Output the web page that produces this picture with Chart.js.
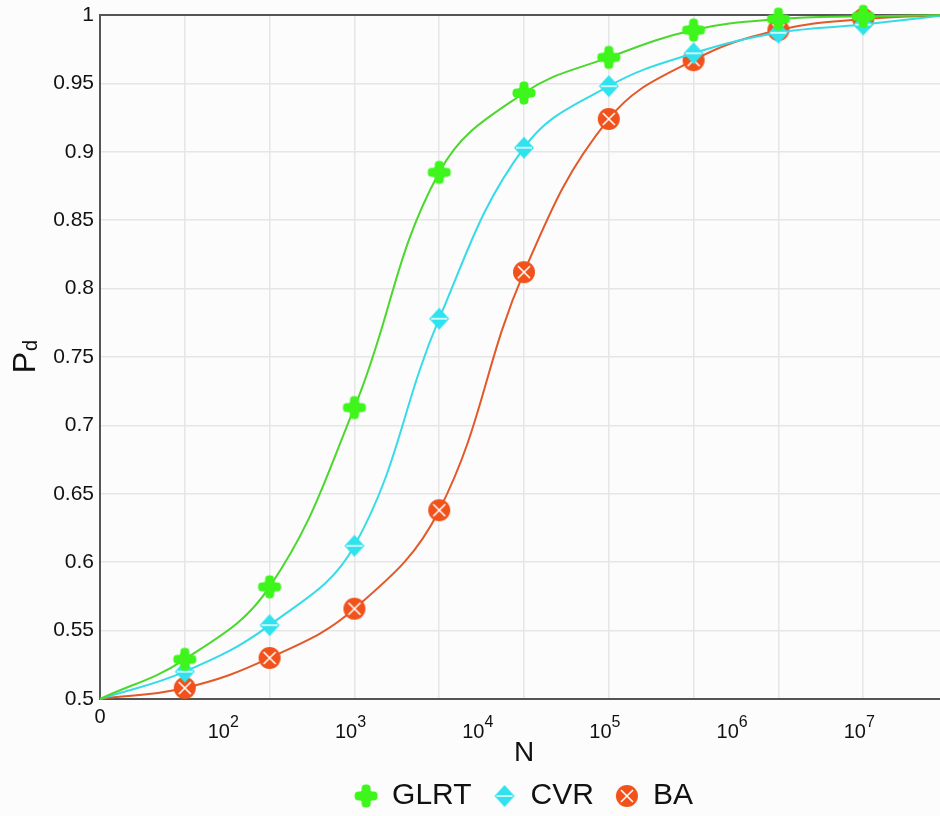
<!DOCTYPE html>
<html>
<head>
<meta charset="utf-8">
<script src="https://cdn.jsdelivr.net/npm/chart.js@4.4.1/dist/chart.umd.min.js"></script>
<style>
  html, body { margin: 0; padding: 0; background: #fcfcfc; overflow: hidden; }
  canvas { display: block; }
</style>
</head>
<body>
<canvas id="pdChart" width="948" height="821"></canvas>
<script>
/* global Chart */

// N values where the detectors were evaluated (also the vertical grid lines)
const gridN = [46.4, 215.4, 1000, 4642, 21544, 100000, 464159, 2154435, 10000000];
// curve ends (no markers there)
const curveStartN = 10;
const curveEndN = 46415888;

const glrt = [0.529, 0.582, 0.713, 0.885, 0.943, 0.969, 0.989, 0.997, 0.999];
const cvr  = [0.520, 0.554, 0.612, 0.778, 0.903, 0.948, 0.972, 0.987, 0.993];
const ba   = [0.508, 0.530, 0.566, 0.638, 0.812, 0.924, 0.967, 0.989, 0.997];

// x tick labels: base text + superscript exponent
const xLabelN   = [10, 100, 1000, 10000, 100000, 1000000, 10000000];
const xLabelTxt = ["0", "10", "10", "10", "10", "10", "10"];
const xLabelExp = ["", "2", "3", "4", "5", "6", "7"];
const yTicks  = [0.5, 0.55, 0.6, 0.65, 0.7, 0.75, 0.8, 0.85, 0.9, 0.95, 1];
const yLabels = ["0.5", "0.55", "0.6", "0.65", "0.7", "0.75", "0.8", "0.85", "0.9", "0.95", "1"];

const FONT = "'Liberation Sans', Arial, Helvetica, sans-serif";
const EXP_PAD = "   "; // room for the exponent, keeps "10" left of the tick like the original

function makeMarker(w, h, draw) {
  const c = document.createElement("canvas");
  c.width = w;
  c.height = h;
  draw(c.getContext("2d"), w / 2, h / 2);
  return c;
}

const plusMark = makeMarker(26, 26, (g, cx, cy) => {
  g.fillStyle = "#3ef51c";
  g.beginPath();
  g.roundRect(cx - 11.5, cy - 4.5, 23, 9, 4);
  g.roundRect(cx - 4.5, cy - 11.5, 9, 23, 4);
  g.fill();
  g.beginPath();
  g.arc(cx, cy, 7, 0, Math.PI * 2);
  g.fill();
});

const diamondMark = makeMarker(24, 26, (g, cx, cy) => {
  g.fillStyle = "#2fe3ee";
  g.beginPath();
  g.moveTo(cx, cy - 11); g.lineTo(cx + 10, cy);
  g.lineTo(cx, cy + 11); g.lineTo(cx - 10, cy);
  g.closePath();
  g.fill();
  g.strokeStyle = "#ffffff";
  g.lineWidth = 1.5;
  g.beginPath();
  g.moveTo(cx - 8, cy); g.lineTo(cx + 8, cy);
  g.stroke();
});

const circleXMark = makeMarker(26, 26, (g, cx, cy) => {
  g.fillStyle = "#f1511a";
  g.beginPath();
  g.arc(cx, cy, 11, 0, Math.PI * 2);
  g.fill();
  g.strokeStyle = "#ffffff";
  g.lineWidth = 1.6;
  const r = 8.5 / Math.SQRT2;
  g.beginPath();
  g.moveTo(cx - r, cy - r); g.lineTo(cx + r, cy + r);
  g.moveTo(cx + r, cy - r); g.lineTo(cx - r, cy + r);
  g.stroke();
});

const series = [
  { name: "GLRT", values: glrt, line: "#4ad82c", marker: plusMark },
  { name: "CVR", values: cvr, line: "#36dbe8", marker: diamondMark },
  { name: "BA", values: ba, line: "#e2592a", marker: circleXMark },
];

const xTickValues = Array.from(new Set([...xLabelN, ...gridN])).sort((a, b) => a - b);

const frameTop = {
  id: "frameTop",
  beforeDatasetsDraw(chart) {
    const { ctx, chartArea: a } = chart;
    ctx.save();
    ctx.strokeStyle = "#555";
    ctx.lineWidth = 2;
    ctx.beginPath();
    ctx.moveTo(a.left, a.top);
    ctx.lineTo(a.right, a.top);
    ctx.stroke();
    ctx.restore();
  },
};

// superscript exponents next to the "10" tick labels
const xExponents = {
  id: "xExponents",
  afterDraw(chart) {
    const { ctx } = chart;
    const sc = chart.scales.x;
    ctx.save();
    ctx.fillStyle = "#111";
    ctx.textBaseline = "alphabetic";
    ctx.textAlign = "left";
    xLabelN.forEach((v, i) => {
      if (!xLabelExp[i]) return;
      ctx.font = `20px ${FONT}`;
      const wAll = ctx.measureText(xLabelTxt[i] + EXP_PAD).width;
      const wBase = ctx.measureText(xLabelTxt[i]).width;
      const x = sc.getPixelForValue(v) - wAll / 2 + wBase;
      ctx.font = `16px ${FONT}`;
      ctx.fillText(xLabelExp[i], x, sc.top + 28);
    });
    ctx.restore();
  },
};

// "P" with subscript "d", rotated
const yTitle = {
  id: "yTitle",
  afterDraw(chart) {
    const { ctx, chartArea } = chart;
    const cy = (chartArea.top + chartArea.bottom) / 2;
    ctx.save();
    ctx.translate(35, cy);
    ctx.rotate(-Math.PI / 2);
    ctx.fillStyle = "#111";
    ctx.textBaseline = "alphabetic";
    ctx.font = `32px ${FONT}`;
    const wP = ctx.measureText("P").width;
    ctx.font = `20px ${FONT}`;
    const wd = ctx.measureText("d").width;
    const x0 = -(wP + wd) / 2;
    ctx.font = `32px ${FONT}`;
    ctx.fillText("P", x0, 0);
    ctx.font = `20px ${FONT}`;
    ctx.fillText("d", x0 + wP + 1, 2);
    ctx.restore();
  },
};

new Chart(document.getElementById("pdChart"), {
  type: "line",
  data: {
    datasets: series.map((s) => ({
      label: s.name,
      data: [
        { x: curveStartN, y: 0.5 },
        ...gridN.map((n, i) => ({ x: n, y: s.values[i] })),
        { x: curveEndN, y: 1 },
      ],
      borderColor: s.line,
      backgroundColor: s.line,
      borderWidth: 2,
      pointStyle: s.marker,
      pointRadius: (c) => (c.dataIndex === 0 || c.dataIndex === gridN.length + 1 ? 0 : 8),
      tension: 0.4,
      fill: false,
      clip: false,
    })),
  },
  options: {
    responsive: false,
    animation: false,
    events: [],
    layout: { padding: { top: 15, left: 0, right: 0, bottom: 0 } },
    plugins: {
      legend: {
        position: "bottom",
        fullSize: false,
        labels: {
          usePointStyle: true,
          boxWidth: 22,
          padding: 22,
          color: "#111",
          font: { family: FONT, size: 30 },
        },
      },
      tooltip: { enabled: false },
    },
    scales: {
      x: {
        type: "logarithmic",
        min: curveStartN,
        max: curveEndN,
        afterBuildTicks: (sc) => { sc.ticks = xTickValues.map((v) => ({ value: v })); },
        afterFit: (sc) => { sc.height = 60; },
        grid: {
          color: (c) => (c.tick && gridN.includes(c.tick.value) ? "#e6e6e6" : "rgba(0,0,0,0)"),
          lineWidth: 1.5,
          drawTicks: false,
        },
        border: { color: "#555", width: 2 },
        ticks: {
          autoSkip: false,
          maxRotation: 0,
          padding: 8,
          color: "#111",
          font: (c) => ({ family: FONT, size: 20, lineHeight: c.tick && c.tick.value === curveStartN ? 1 : 2.5 }),
          callback: (v) => {
            const i = xLabelN.indexOf(v);
            if (i < 0) return "";
            return xLabelExp[i] ? xLabelTxt[i] + EXP_PAD : xLabelTxt[i];
          },
        },
        title: {
          display: true,
          text: "N",
          color: "#111",
          padding: 0,
          font: { family: FONT, size: 28, lineHeight: 0.4 },
        },
      },
      y: {
        min: 0.5,
        max: 1,
        afterBuildTicks: (sc) => { sc.ticks = yTicks.map((v) => ({ value: v })); },
        afterFit: (sc) => { sc.width = 100; },
        grid: { color: "#e6e6e6", lineWidth: 1.5, drawTicks: false },
        border: { color: "#555", width: 2 },
        ticks: {
          padding: 6,
          color: "#111",
          font: { family: FONT, size: 21, lineHeight: 0.8 },
          callback: (v, i) => yLabels[i],
        },
      },
    },
  },
  plugins: [frameTop, xExponents, yTitle],
});
</script>
</body>
</html>
